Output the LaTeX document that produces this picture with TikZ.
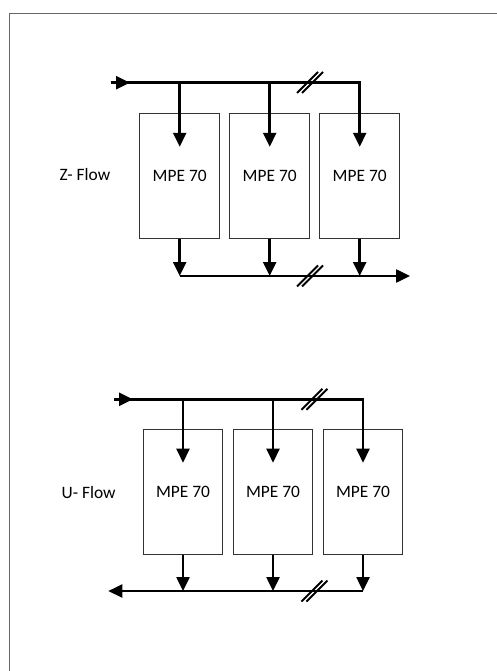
\documentclass[tikz,border=0pt]{standalone}
\usepackage{fontspec}
\setmainfont{Carlito}
\usetikzlibrary{arrows.meta,positioning,calc}

\tikzset{
    unit/.style={draw=black!80, line width=1pt, minimum width=79.5pt, minimum height=125pt, inner sep=0pt},
    pipe/.style={line width=2.5pt},
    flow/.style={pipe, -{Triangle[length=14pt,width=13pt]}},
    breakmark/.pic={
        \draw[line width=2pt] (-13,10.5) -- (8,-10.5);
        \draw[line width=2pt] (-8,10.5) -- (13,-10.5);
    }
}

\begin{document}
\begin{tikzpicture}[x=1pt, y=-1pt, font=\fontsize{17.4}{20}\selectfont, node distance=9.5pt]
    \useasboundingbox (0,0) rectangle (497,671);
    \draw[black!60, line width=1.5pt] (9.7,690) |- (520,13.3);

    % Z-flow
    \node[unit] (z1) at (179.7,175.8) {MPE 70};
    \node[unit, right=of z1] (z2) {MPE 70};
    \node[unit, right=of z2] (z3) {MPE 70};
    \node (zlabel) at (85,175) {Z- Flow};

    \coordinate (zin) at (110.7,82.7);
    \coordinate (zinhead) at (130,82.7);
    \coordinate (zout) at (410,276);

    \draw[flow] (zin) -- (zinhead);
    \draw[flow] (zin) -- (zin -| z3) -- ([yshift=29pt]z3.center);
    \draw[flow] (zin -| z1) -- ([yshift=29pt]z1.center);
    \draw[flow] (zin -| z2) -- ([yshift=29pt]z2.center);

    \draw[flow] (z1.south) -- (z1.south |- zout);
    \draw[flow] (z2.south) -- (z2.south |- zout);
    \draw[flow] (z3.south) -- (z3.south |- zout);
    \draw[flow] (z1.south |- zout) -- (zout);

    \pic at (310,82.5) {breakmark};
    \pic at (310,276) {breakmark};

    % U-flow
    \node[unit] (u1) at (183,491.7) {MPE 70};
    \node[unit, right=of u1] (u2) {MPE 70};
    \node[unit, right=of u2] (u3) {MPE 70};
    \node (ulabel) at (88.7,493) {U- Flow};

    \coordinate (uin) at (114.3,399.3);
    \coordinate (uinhead) at (133,399.3);
    \coordinate (uout) at (108.3,591);

    \draw[flow] (uin) -- (uinhead);
    \draw[flow] (uin) -- (uin -| u3) -- ([yshift=29pt]u3.center);
    \draw[flow] (uin -| u1) -- ([yshift=29pt]u1.center);
    \draw[flow] (uin -| u2) -- ([yshift=29pt]u2.center);

    \draw[flow] (u1.south) -- (u1.south |- uout);
    \draw[flow] (u2.south) -- (u2.south |- uout);
    \draw[flow] (u3.south) -- (u3.south |- uout);
    \draw[flow] (u3.south |- uout) -- (uout);

    \pic at (314.5,399.3) {breakmark};
    \pic at (314.5,591) {breakmark};
\end{tikzpicture}
\end{document}
